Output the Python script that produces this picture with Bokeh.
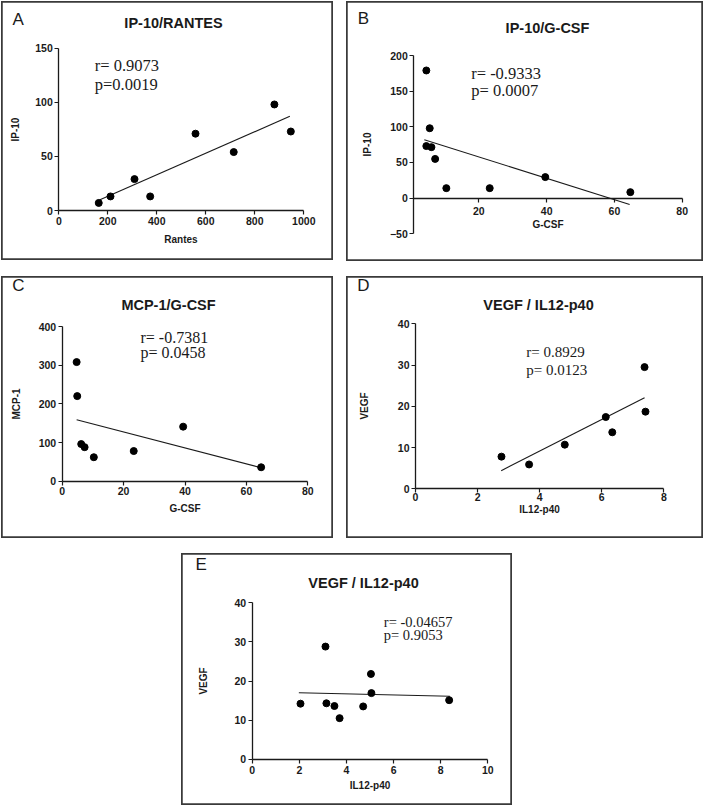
from bokeh.plotting import figure
from bokeh.models import Range1d, Label, FixedTicker, Spacer
from bokeh.layouts import row, column
from bokeh.embed import file_html
from bokeh.resources import INLINE

# ---------------- data ----------------
# A  IP-10 / RANTES
a_x = [163, 211, 309, 373, 558, 714, 880, 947]
a_y = [7, 13, 29, 13, 71, 54, 98, 73]
a_fit_x = [168, 943]
a_fit_y = [10, 87]
a_xticks = [0, 200, 400, 600, 800, 1000]
a_yticks = [0, 50, 100, 150]

# B  IP-10 / G-CSF
b_x = [4.5, 5.5, 4.5, 6.0, 7.1, 10.4, 23.2, 39.6, 64.7]
b_y = [179, 98, 73, 71.5, 55, 14, 14, 29.5, 8.4]
b_fit_x = [3.9, 64.5]
b_fit_y = [82, -9]
b_xticks = [20, 40, 60, 80]
b_yticks = [-50, 0, 50, 100, 150, 200]

# C  MCP-1 / G-CSF
c_x = [4.7, 4.9, 6.2, 7.3, 10.3, 23.3, 39.4, 64.8]
c_y = [308, 220, 96, 88, 62, 78, 141, 36]
c_fit_x = [4.7, 64.7]
c_fit_y = [159, 35]
c_xticks = [0, 20, 40, 60, 80]
c_yticks = [0, 100, 200, 300, 400]

# D  VEGF / IL12-p40
d_x = [2.77, 3.66, 4.81, 6.13, 6.34, 7.38, 7.41]
d_y = [7.8, 5.9, 10.7, 17.4, 13.7, 29.5, 18.7]
d_fit_x = [2.76, 7.38]
d_fit_y = [4.4, 22.1]
d_xticks = [0, 2, 4, 6, 8]
d_yticks = [0, 10, 20, 30, 40]

# E  VEGF / IL12-p40
e_x = [2.05, 3.11, 3.15, 3.49, 3.71, 4.71, 5.04, 5.06, 8.36]
e_y = [14.2, 28.8, 14.3, 13.6, 10.5, 13.5, 21.8, 16.9, 15.1]
e_fit_x = [1.98, 8.39]
e_fit_y = [17.0, 16.1]
e_xticks = [0, 2, 4, 6, 8, 10]
e_yticks = [0, 10, 20, 30, 40]

# ---------------- layout helpers ----------------
SANS = "Liberation Sans"
SERIF = "Liberation Serif"
INK = "#1a1a1a"


def panel(box, frame, xr, yr, xticks, yticks, xs, ys, fx, fy,
          title, title_pos, letter, letter_pos, rtxt, ptxt, txt_left, r_y, p_y,
          xlabel, ylabel, x_axis_at=None, y_axis_at=None,
          tick_standoff=2, xlab_standoff=4, ylab_standoff=12, corr_size="16.5px"):
    # box / frame in page pixels; the figure frame covers the whole box
    bx, by, bw, bh = box
    fl, fr, ft, fb = frame
    kx = (xr[1] - xr[0]) / (fr - fl)
    ky = (yr[1] - yr[0]) / (fb - ft)
    x_start = xr[0] - (fl - bx) * kx
    x_end = xr[1] + (bx + bw - fr) * kx
    y_end = yr[1] + (ft - by) * ky
    y_start = yr[0] - (by + bh - fb) * ky

    p = figure(width=bw, height=bh,
               x_range=Range1d(x_start, x_end), y_range=Range1d(y_start, y_end),
               min_border=0, min_border_left=0, min_border_right=0,
               min_border_top=0, min_border_bottom=0,
               output_backend="svg", toolbar_location=None)
    p.title.visible = False
    p.grid.visible = False
    p.background_fill_color = "white"
    p.border_fill_color = "white"
    p.outline_line_color = "#3a3a3a"
    p.outline_line_width = 2.5

    p.xaxis.ticker = FixedTicker(ticks=xticks)
    p.yaxis.ticker = FixedTicker(ticks=yticks)
    p.xaxis.fixed_location = yr[0] if x_axis_at is None else x_axis_at
    p.yaxis.fixed_location = xr[0] if y_axis_at is None else y_axis_at
    p.xaxis.bounds = (xr[0], xr[1])
    p.yaxis.bounds = (yr[0], yr[1])
    for ax in p.axis:
        ax.axis_line_width = 1.3
        ax.axis_line_color = INK
        ax.major_tick_line_color = INK
        ax.major_tick_line_width = 1.2
        ax.major_tick_in = 0
        ax.major_tick_out = 4
        ax.minor_tick_line_color = None
        ax.major_label_text_font = SANS
        ax.major_label_text_font_style = "bold"
        ax.major_label_text_font_size = "10.5px"
        ax.major_label_text_color = INK
        ax.axis_label_text_font = SANS
        ax.axis_label_text_font_style = "bold"
        ax.axis_label_text_font_size = "10px"
        ax.axis_label_text_color = INK
    p.xaxis.major_label_standoff = tick_standoff
    p.yaxis.major_label_standoff = 2
    p.xaxis.axis_label = xlabel
    p.yaxis.axis_label = ylabel
    p.xaxis.axis_label_standoff = xlab_standoff
    p.yaxis.axis_label_standoff = ylab_standoff

    p.line(fx, fy, line_color=INK, line_width=1.1)
    p.scatter(xs, ys, marker="circle", size=7, color="black")

    def to_data(px, py):
        return xr[0] + (px - fl) * kx, yr[1] - (py - ft) * ky

    tx, ty = to_data(*title_pos)
    p.add_layout(Label(x=tx, y=ty, text=title, text_align="center",
                       text_baseline="middle", text_font=SANS,
                       text_font_style="bold", text_font_size="14.5px",
                       text_color=INK))
    lx, ly = to_data(*letter_pos)
    p.add_layout(Label(x=lx, y=ly, text=letter, text_align="left",
                       text_baseline="middle", text_font=SANS,
                       text_font_size="17px", text_color=INK))
    for txt, yy in ((rtxt, r_y), (ptxt, p_y)):
        cx, cy = to_data(txt_left, yy)
        p.add_layout(Label(x=cx, y=cy, text=txt, text_align="left",
                           text_baseline="middle", text_font=SERIF,
                           text_font_size=corr_size, text_color=INK))
    return p


pA = panel((1, 1, 332, 259), (58.3, 303.3, 47.7, 210.0), (0, 1000), (0, 150),
           a_xticks, a_yticks, a_x, a_y, a_fit_x, a_fit_y,
           "IP-10/RANTES", (173, 22.7), "A", (12, 19),
           "r= 0.9073", "p=0.0019", 94.3, 65.3, 83.7,
           "Rantes", "IP-10", tick_standoff=2, xlab_standoff=6, ylab_standoff=11)

pB = panel((346, 1, 357, 260), (413.3, 681.7, 55.0, 233.3), (0.8, 80), (-50, 200),
           b_xticks, b_yticks, b_x, b_y, b_fit_x, b_fit_y,
           "IP-10/G-CSF", (547, 27.5), "B", (357.3, 18.3),
           "r= -0.9333", "p= 0.0007", 470.7, 72.7, 90.0,
           "G-CSF", "IP-10", x_axis_at=0, tick_standoff=5, xlab_standoff=0,
           ylab_standoff=14)

pC = panel((1, 276, 332, 262), (61.7, 307.3, 326.0, 480.7), (0, 80), (0, 400),
           c_xticks, c_yticks, c_x, c_y, c_fit_x, c_fit_y,
           "MCP-1/G-CSF", (168, 304), "C", (11.7, 285.3),
           "r= -0.7381", "p= 0.0458", 140, 336.7, 351.7,
           "G-CSF", "MCP-1", tick_standoff=2, xlab_standoff=4, ylab_standoff=14,
           corr_size="16px")

pD = panel((346, 276, 357, 262), (415.0, 663.3, 323.3, 488.3), (0, 8), (0, 40),
           d_xticks, d_yticks, d_x, d_y, d_fit_x, d_fit_y,
           "VEGF / IL12-p40", (538, 304), "D", (356.7, 285),
           "r= 0.8929", "p= 0.0123", 525.7, 351, 369.3,
           "IL12-p40", "VEGF", tick_standoff=0, xlab_standoff=0, ylab_standoff=25,
           corr_size="15px")

pE = panel((181, 553, 331, 252), (251.7, 487.3, 602.3, 758.7), (0, 10), (0, 40),
           e_xticks, e_yticks, e_x, e_y, e_fit_x, e_fit_y,
           "VEGF / IL12-p40", (363, 582.3), "E", (195, 564.3),
           "r= -0.04657", "p= 0.9053", 383.3, 621.7, 634.3,
           "IL12-p40", "VEGF", tick_standoff=3, xlab_standoff=2, ylab_standoff=23,
           corr_size="14.5px")

layout = column(
    Spacer(height=1, width=10),
    row(Spacer(width=1, height=10), pA, Spacer(width=13, height=10), pB),
    Spacer(height=15, width=10),
    row(Spacer(width=1, height=10), pC, Spacer(width=13, height=10), pD),
    Spacer(height=15, width=10),
    row(Spacer(width=181, height=10), pE),
)

open("out.html", "w").write(file_html(layout, INLINE))
